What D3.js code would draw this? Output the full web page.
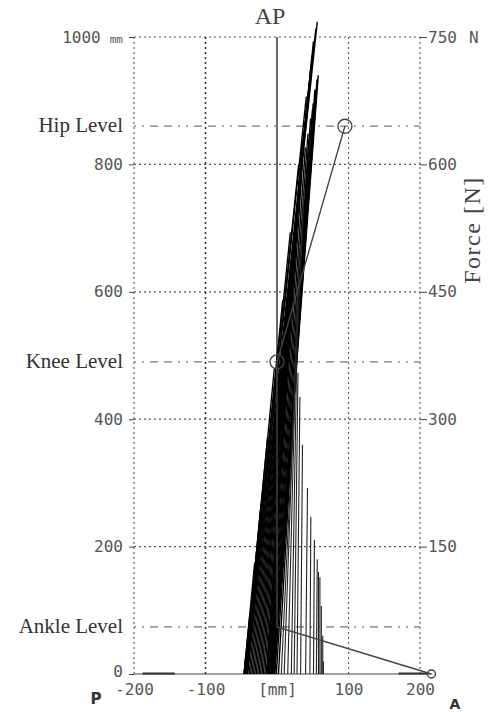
<!DOCTYPE html>
<html>
<head>
<meta charset="utf-8">
<script src="https://cdn.jsdelivr.net/npm/d3@7"></script>
<style>
  html, body { margin: 0; padding: 0; background: #fff; }
  svg { display: block; }
</style>
</head>
<body>
<div id="chart"></div>
<script>
// ---------- data ----------
// Left axis (height, mm) and right axis (force, N)
const heightTicks = [0, 200, 400, 600, 800, 1000];
const forceTicks = [150, 300, 450, 600, 750];
const xTicks = [-200, -100, 0, 100, 200];
const xTickLabels = ["-200", "-100", "[mm]", "100", "200"];

// Anatomical levels (mm)
const levelNames = ["Hip Level", "Knee Level", "Ankle Level"];
const levelHeights = [860, 490, 74];

// Leg segments: hip, knee, ankle, toe (x mm, height mm)
const legX = [95, 0, 0, 216];
const legY = [860, 490, 74, 0];
const jointR = [7, 7, 0, 4];

// Ground reaction force vectors: centre of pressure (mm), Fx (N), Fz (N)
const copX = [-46, -46, -46, -45, -45, -45, -44, -44, -43, -43, -42, -41,
  -39, -37, -35, -33, -31, -29, -27, -25, -23, -21, -19, -17, -15,
  -14, -13, -12, -11, -10, -9, -8, -7, -6, -5, -4, -3, -1,
  2, 6, 10, 15, 20, 24, 28, 33, 40, 46, 51, 55, 58, 60, 62, 64, 65];
const forceX = [2, 6, 11, 17, 24, 31, 39, 47, 55, 63, 70, 73,
  70, 66, 63, 60, 57, 54, 51, 48, 45, 42, 40, 38, 36,
  35, 35, 36, 38, 40, 42, 44, 46, 47, 47, 45, 42, 38,
  32, 24, 16, 10, 6, 4, 3, 2, 2, 1, 1, 1, 0, 0, 0, 0, 0];
const forceZ = [25, 70, 130, 200, 280, 360, 440, 520, 600, 680, 740, 768,
  760, 745, 728, 712, 696, 680, 664, 650, 636, 624, 612, 603, 597,
  596, 598, 606, 620, 636, 654, 672, 688, 700, 705, 700, 688, 665,
  630, 570, 500, 440, 390, 355, 326, 270, 219, 185, 158, 135, 120, 114, 80, 45, 15];

// Force-plate outline segments on the ground line (mm)
const plateStart = [-188, 170];
const plateEnd = [-143, 210];

// ---------- drawing ----------
const W = 492, H = 712;
const svg = d3.select("#chart").append("svg").attr("width", W).attr("height", H);

const x = d3.scaleLinear().domain([-200, 200]).range([134, 420]);
const y = d3.scaleLinear().domain([0, 1000]).range([674, 37]);
const yF = d3.scaleLinear().domain([0, 750]).range([674, 37]);
const n2mm = d3.scaleLinear().domain([0, 750]).range([0, 1000]);

const mono = "'DejaVu Sans Mono', monospace";
const serif = "'Liberation Serif', 'Times New Roman', serif";

// horizontal dotted grid
svg.append("g").selectAll("line").data(heightTicks.filter(d => d > 0)).join("line")
  .attr("x1", x(-200)).attr("x2", x(200))
  .attr("y1", d => y(d)).attr("y2", d => y(d))
  .attr("stroke", "#555").attr("stroke-width", 1.2).attr("stroke-dasharray", "2,3");

// vertical dotted grid
const vGrid = [-200, -100, 100, 200];
svg.append("g").selectAll("line").data(vGrid).join("line")
  .attr("x1", d => x(d)).attr("x2", d => x(d))
  .attr("y1", y(1000)).attr("y2", y(0))
  .attr("stroke", d => d === -100 ? "#333" : "#666")
  .attr("stroke-width", d => d === -100 ? 1.6 : 1.2)
  .attr("stroke-dasharray", "2,3");

// level lines (dash-dot)
svg.append("g").selectAll("line").data(levelHeights).join("line")
  .attr("x1", x(-200)).attr("x2", x(200))
  .attr("y1", d => y(d)).attr("y2", d => y(d))
  .attr("stroke", "#777").attr("stroke-width", 1.3)
  .attr("stroke-dasharray", "2,6,2,6,8,6,8,6");

svg.append("g").selectAll("text").data(levelNames).join("text")
  .attr("x", 123).attr("y", (d, i) => y(levelHeights[i]) + 6)
  .attr("text-anchor", "end")
  .attr("font-family", serif).attr("font-size", 21).attr("fill", "#333")
  .text(d => d);

// ground line
svg.append("line")
  .attr("x1", x(-200)).attr("x2", x(216))
  .attr("y1", y(0)).attr("y2", y(0))
  .attr("stroke", "#444").attr("stroke-width", 1.2);
svg.append("g").selectAll("line").data(plateStart).join("line")
  .attr("x1", d => x(d)).attr("x2", (d, i) => x(plateEnd[i]))
  .attr("y1", y(0) - 0.5).attr("y2", y(0) - 0.5)
  .attr("stroke", "#333").attr("stroke-width", 2);

// vertical reference line at x = 0
svg.append("line")
  .attr("x1", x(0)).attr("x2", x(0))
  .attr("y1", y(1000)).attr("y2", y(legY[1]))
  .attr("stroke", "#444").attr("stroke-width", 1.6);

// force vectors
svg.append("g").selectAll("line").data(copX).join("line")
  .attr("x1", d => x(d)).attr("y1", y(0))
  .attr("x2", (d, i) => x(d + n2mm(forceX[i])))
  .attr("y2", (d, i) => yF(forceZ[i]))
  .attr("stroke", (d, i) => d > 5 ? "#222" : "#000")
  .attr("stroke-width", (d, i) => d > 5 ? 1.1 : 1.4);

// leg segments
const legPts = legX.map((d, i) => [x(d), y(legY[i])]);
svg.append("path")
  .attr("d", d3.line()(legPts))
  .attr("fill", "none").attr("stroke", "#444").attr("stroke-width", 1.4);
svg.append("g").selectAll("circle").data(legPts.filter((d, i) => jointR[i] > 0)).join("circle")
  .attr("cx", d => d[0]).attr("cy", d => d[1])
  .attr("r", (d, i) => jointR.filter(r => r > 0)[i])
  .attr("fill", "none").attr("stroke", "#444").attr("stroke-width", 1.4);

// left axis
const gL = svg.append("g").attr("transform", `translate(${x(-200)},0)`)
  .call(d3.axisLeft(y).tickValues(heightTicks).tickSize(5).tickPadding(6).tickFormat(d => d));
gL.select(".domain").remove();
gL.selectAll(".tick line").attr("stroke", "#444");
gL.selectAll(".tick text").attr("font-family", mono).attr("font-size", 16).attr("fill", "#555");
gL.selectAll(".tick text").filter(d => d === 0).attr("dy", "0.15em");
gL.selectAll(".tick text").filter(d => d === 1000).text(null)
  .call(t => { t.append("tspan").text("1000"); t.append("tspan").attr("dx", 9).attr("font-size", 11).text("mm"); });

// right axis
const gR = svg.append("g").attr("transform", `translate(${x(200)},0)`)
  .call(d3.axisRight(yF).tickValues(forceTicks).tickSize(7).tickPadding(1).tickFormat(d => d));
gR.select(".domain").remove();
gR.selectAll(".tick line").attr("stroke", "#444");
gR.selectAll(".tick text").attr("font-family", mono).attr("font-size", 16).attr("fill", "#555");
gR.selectAll(".tick text").filter(d => d === 750).text(null)
  .call(t => { t.append("tspan").text("750"); t.append("tspan").attr("dx", 12).text("N"); });

// bottom axis
const gB = svg.append("g").attr("transform", `translate(0,${y(0)})`)
  .call(d3.axisBottom(x).tickValues(xTicks).tickSize(0).tickPadding(10)
    .tickFormat((d, i) => xTickLabels[i]));
gB.select(".domain").remove();
gB.selectAll(".tick text").attr("font-family", mono).attr("font-size", 16).attr("fill", "#555");

// titles
svg.append("text").attr("x", 270).attr("y", 24).attr("text-anchor", "middle")
  .attr("font-family", serif).attr("font-size", 24).attr("fill", "#444").text("AP");
svg.append("text").attr("transform", "translate(480,230) rotate(-90)")
  .attr("text-anchor", "middle").attr("letter-spacing", 1.5)
  .attr("font-family", serif).attr("font-size", 24).attr("fill", "#444").text("Force [N]");
svg.append("text").attr("x", 96).attr("y", 704).attr("text-anchor", "middle")
  .attr("font-family", "'DejaVu Sans', sans-serif").attr("font-weight", "bold")
  .attr("font-size", 15).attr("fill", "#333").text("P");
svg.append("text").attr("x", 455).attr("y", 709).attr("text-anchor", "middle")
  .attr("font-family", "'DejaVu Sans', sans-serif").attr("font-weight", "bold")
  .attr("font-size", 14).attr("fill", "#333").text("A");
</script>
</body>
</html>
